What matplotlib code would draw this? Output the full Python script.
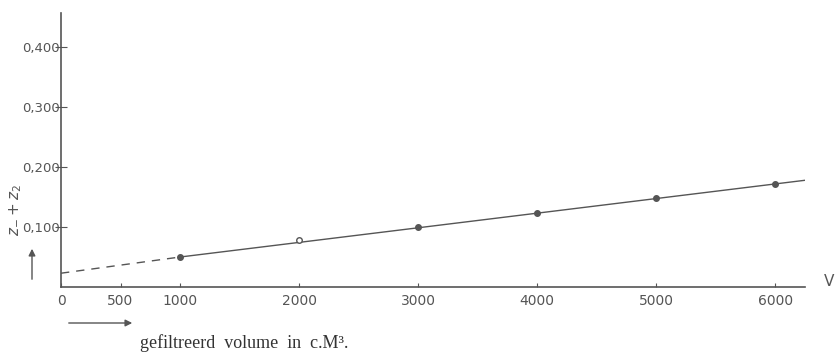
import matplotlib.pyplot as plt

# measured points (V in c.M3, z-value)
volume = [1000, 2000, 3000, 4000, 5000, 6000]
z_value = [0.050, 0.078, 0.100, 0.123, 0.148, 0.172]
open_point = [False, True, False, False, False, False]

# drawn fit line: dashed extrapolation to V=0, solid through the points
dash_v = [0, 1000]
dash_z = [0.023, 0.050]
fit_v = [1000, 6250]
fit_z = [0.050, 0.178]

x_ticks = [0, 500, 1000, 2000, 3000, 4000, 5000, 6000]
x_labels = ["0", "500", "1000", "2000", "3000", "4000", "5000", "6000"]
y_ticks = [0.1, 0.2, 0.3, 0.4]
y_labels = ["0,100", "0,200", "0,300", "0,400"]

ink = "#555555"

fig = plt.figure(figsize=(8.38, 3.52), dpi=100)
ax = fig.add_axes([61 / 838, 65 / 352, 744 / 838, 274 / 352])

ax.plot(dash_v, dash_z, color=ink, lw=1.0, ls=(0, (6, 5)))
ax.plot(fit_v, fit_z, color=ink, lw=1.0)
for v, z, o in zip(volume, z_value, open_point):
    ax.plot(v, z, "o", ms=4, color=ink,
            mfc="white" if o else ink, mew=1.0)

ax.set_xlim(0, 6250)
ax.set_ylim(0, 0.457)
for s in ["top", "right"]:
    ax.spines[s].set_visible(False)
for s in ["left", "bottom"]:
    ax.spines[s].set_color(ink)
    ax.spines[s].set_linewidth(1.2)

ax.set_xticks(x_ticks)
ax.set_xticklabels(x_labels, fontsize=10, color=ink)
ax.set_yticks(y_ticks)
ax.set_yticklabels(y_labels, fontsize=9.5, color=ink)
ax.tick_params(axis="y", direction="inout", length=8, pad=-3, colors=ink)
ax.tick_params(axis="x", direction="in", length=3, pad=5, colors=ink)

# axis end marks and arrows
fig.text(824 / 838, 1 - 282 / 352, "V", fontsize=11, color=ink,
         ha="left", va="center")
fig.text(16 / 838, 1 - 210 / 352, r"$z_{-} + z_{2}$", rotation=90,
         fontsize=11, color=ink, ha="center", va="center")
ax.annotate("", xy=(32 / 838, 1 - 246 / 352), xytext=(32 / 838, 1 - 282 / 352),
            xycoords="figure fraction",
            arrowprops=dict(arrowstyle="-|>", color=ink, lw=1.0))
ax.annotate("", xy=(135 / 838, 1 - 323 / 352), xytext=(66 / 838, 1 - 323 / 352),
            xycoords="figure fraction",
            arrowprops=dict(arrowstyle="-|>", color=ink, lw=1.0))
fig.text(140 / 838, 1 - 343 / 352, "gefiltreerd  volume  in  c.M³.",
         fontsize=13, family="Liberation Serif", color="#333333",
         ha="left", va="center")

plt.savefig("out.png")
plt.close()
